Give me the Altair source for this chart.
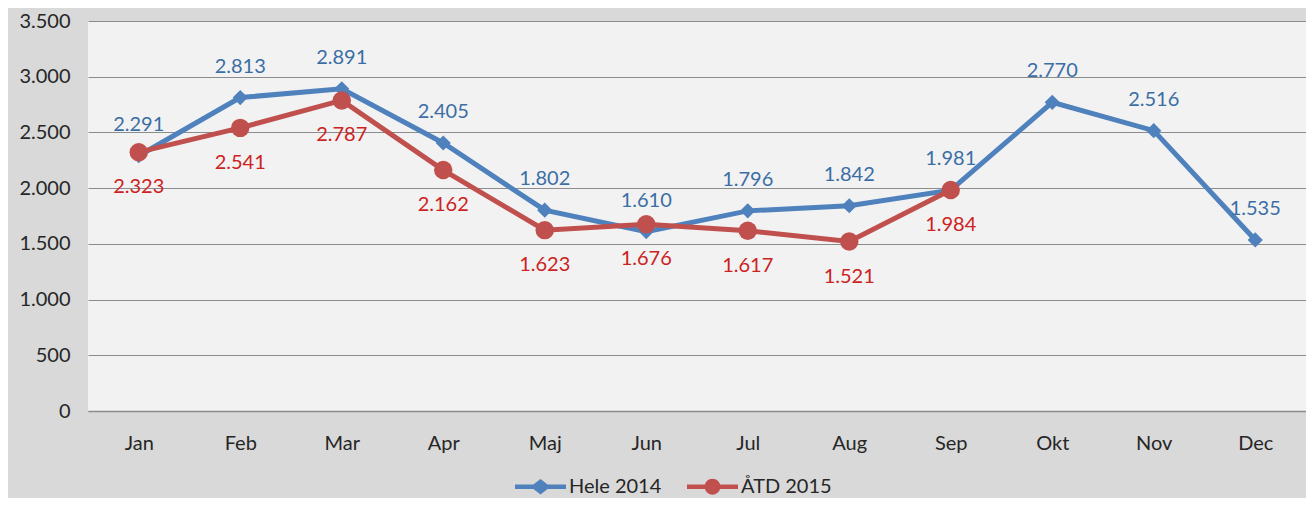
import altair as alt
import pandas as pd

months = ["Jan", "Feb", "Mar", "Apr", "Maj", "Jun", "Jul", "Aug", "Sep", "Okt", "Nov", "Dec"]
hele_2014 = [2291, 2813, 2891, 2405, 1802, 1610, 1796, 1842, 1981, 2770, 2516, 1535]
atd_2015 = [2323, 2541, 2787, 2162, 1623, 1676, 1617, 1521, 1984]
series_names = ["Hele 2014", "ÅTD 2015"]
y_ticks = [0, 500, 1000, 1500, 2000, 2500, 3000, 3500]

rows = []
for m, v in zip(months, hele_2014):
    rows.append({"month": m, "value": v, "series": series_names[0]})
for m, v in zip(months, atd_2015):
    rows.append({"month": m, "value": v, "series": series_names[1]})
df = pd.DataFrame(rows)

BLUE = "#4F81BD"
RED = "#C0504D"
BLUE_TXT = "#3A6EA5"
RED_TXT = "#CC2222"
FONT = "Lato"
FS = 20

x_enc = alt.X(
    "month:N",
    sort=months,
    scale=alt.Scale(type="point", domain=months, padding=0.5),
    axis=alt.Axis(
        title=None, labelAngle=0, ticks=False, domain=True, domainColor="#8c8c8c",
        domainWidth=1.5, labelPadding=22, labelFont=FONT, labelFontSize=FS,
        labelColor="#262626", grid=False,
    ),
)
y_enc = alt.Y(
    "value:Q",
    scale=alt.Scale(domain=[0, 3500], nice=False),
    axis=alt.Axis(
        title=None, values=y_ticks, grid=True, gridColor="#8c8c8c", gridWidth=1,
        domain=False, ticks=False, labelPadding=18, labelFont=FONT, labelFontSize=FS,
        labelColor="#262626",
        labelExpr="replace(format(datum.value, ','), ',', '.')",
    ),
)

base = alt.Chart(df).transform_calculate(
    lbl="replace(format(datum.value, ','), ',', '.')"
)

blue = base.transform_filter(alt.datum.series == series_names[0])
red = base.transform_filter(alt.datum.series == series_names[1])

blue_line = blue.mark_line(color=BLUE, strokeWidth=5).encode(x=x_enc, y=y_enc)
blue_pts = blue.mark_point(shape="diamond", filled=True, size=230, color=BLUE, opacity=1).encode(x=x_enc, y=y_enc)
red_line = red.mark_line(color=RED, strokeWidth=5).encode(x=x_enc, y=y_enc)
red_pts = red.mark_point(shape="circle", filled=True, size=340, color=RED, opacity=1).encode(x=x_enc, y=y_enc)

blue_txt = blue.mark_text(dy=-31, font=FONT, fontSize=FS, color=BLUE_TXT).encode(
    x=x_enc, y=y_enc, text="lbl:N"
)
red_txt = red.mark_text(dy=35, font=FONT, fontSize=FS, color=RED_TXT).encode(
    x=x_enc, y=y_enc, text="lbl:N"
)

path_blue = ("M-1,-0.085 L-0.28,-0.085 L0,-0.3 L0.28,-0.085 L1,-0.085 L1,0.085 "
             "L0.28,0.085 L0,0.3 L-0.28,0.085 L-1,0.085 Z")
path_red = ("M-1,-0.085 L1,-0.085 L1,0.085 L-1,0.085 Z "
            "M-0.31,0 A0.31,0.31 0 1,1 0.31,0 A0.31,0.31 0 1,1 -0.31,0 Z")

legend_layer = base.transform_filter("datum.value < 0").mark_point(filled=True, opacity=1).encode(
    x=x_enc,
    y=y_enc,
    color=alt.Color("series:N", scale=alt.Scale(domain=series_names, range=[BLUE, RED])),
    shape=alt.Shape("series:N", scale=alt.Scale(domain=series_names, range=[path_blue, path_red])),
)

chart = alt.layer(
    blue_line, red_line, blue_pts, red_pts, blue_txt, red_txt, legend_layer
).properties(
    width=1218,
    height=390,
    background="#d9d9d9",
    padding={"left": 80, "top": 13, "right": 0, "bottom": 87},
    autosize=alt.AutoSizeParams(type="none"),
).configure_view(
    fill="#f2f2f2", stroke=None
).configure_legend(
    orient="none", legendX=427, legendY=440, direction="horizontal", title=None,
    symbolSize=2601, symbolStrokeWidth=0, labelFont=FONT, labelFontSize=FS,
    labelColor="#262626", labelOffset=3, columnPadding=25, padding=0,
)

chart.save("out.html", embed_options={"renderer": "svg", "actions": False})
